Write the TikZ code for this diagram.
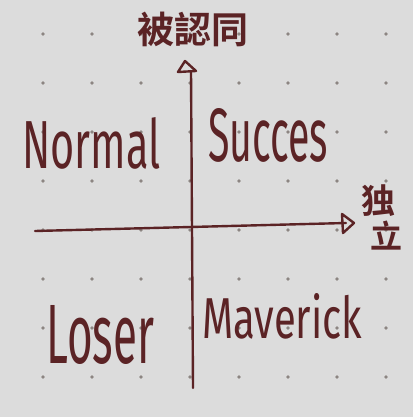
\documentclass[tikz,border=0pt]{standalone}
\usepackage{fontspec}
\setmainfont{Fira Sans}
\newfontfamily\cjk{Noto Sans CJK TC}[BoldFont={* Bold}]
\definecolor{bg}{HTML}{DCDCDC}
\definecolor{ink}{HTML}{5B2325}
\definecolor{dotc}{HTML}{8C8582}
\begin{document}
\begin{tikzpicture}[x=1pt,y=-1pt,
  inkline/.style={draw=ink,line width=2.4pt,line cap=round,line join=round},
  lbl/.style={text=ink,inner sep=0pt,anchor=base west},
  cjklbl/.style={text=ink,inner sep=0pt}]
\fill[bg] (0,0) rectangle (413,417);
\useasboundingbox (0,0) rectangle (413,417);
% dot grid
\foreach \i in {0,...,7}{
  \foreach \j in {0,...,7}{
    \fill[dotc] ({43+49*\i},{34+49*\j}) circle (1.8);
  }
}
% axes
\coordinate (vtop) at (191,71);
\coordinate (vbot) at (193,388);
\coordinate (hl) at (35,231);
\coordinate (hr) at (346,223);
\coordinate (ta) at (185,61);
\coordinate (tl) at (178,72);
\coordinate (tr) at (196,71);
\coordinate (ra) at (354,223);
\coordinate (rt) at (342,214);
\coordinate (rb) at (343,233);
\draw[inkline] (vtop) -- (vbot);
\draw[inkline] (hl) -- (hr);
\draw[inkline] (ta) -- (tl) -- (tr) -- cycle;
\draw[inkline] (ra) -- (rt) -- (rb) -- cycle;
% quadrant labels
\node[lbl] (normal) at (22,168) {\resizebox{138pt}{51pt}{Normal}};
\node[lbl] (succes) at (208,161) {\resizebox{120pt}{53pt}{Succes}};
\node[lbl] (loser) at (46,363) {\resizebox{108pt}{58pt}{Loser}};
\node[lbl] (maverick) at (202,338) {\resizebox{160pt}{45pt}{Maverick}};
% axis labels
\node[cjklbl,font=\cjk\bfseries\fontsize{37}{37}\selectfont] (ylab) at (193,29) {被認同};
\node[cjklbl,font=\cjk\bfseries\fontsize{34}{34}\selectfont] (x1) at (378,201) {独};
\node[cjklbl,font=\cjk\bfseries\fontsize{32}{32}\selectfont] (x2) at (386,236) {立};
\end{tikzpicture}
\end{document}
